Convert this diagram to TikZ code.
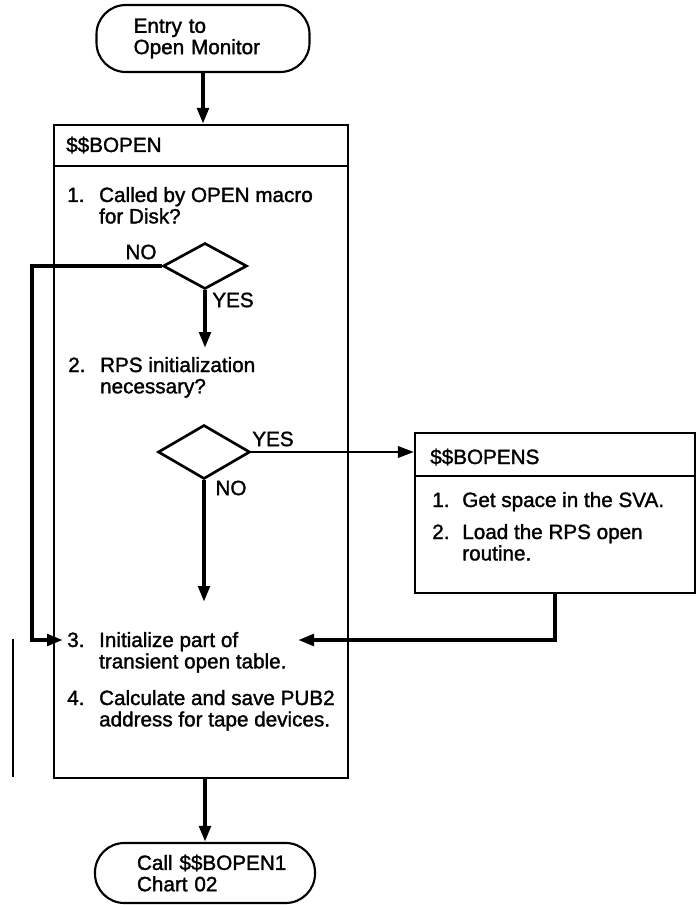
\documentclass[tikz,border=0pt]{standalone}
\usepackage{fontspec}
\setmainfont{Liberation Sans}[BoldFont={Liberation Sans},BoldFeatures={FakeBold=1.5}]
\usetikzlibrary{arrows.meta,shapes.geometric,calc}
\begin{document}
\begin{tikzpicture}[x=0.75pt,y=-0.75pt,
  every node/.style={font=\fontsize{15.5}{16}\selectfont\bfseries},
  boxst/.style={draw,line width=1.6pt,rectangle,inner sep=0pt},
  termst/.style={draw,line width=1.6pt,rounded corners=22pt,inner sep=0pt,align=left},
  decst/.style={draw,diamond,line width=2pt,inner sep=0pt},
  arr/.style={line width=3pt,-{Triangle[length=12pt,width=8.5pt]}},
  yesarr/.style={line width=2pt,-{Triangle[length=12pt,width=8.5pt]}},
  txt/.style={anchor=base west,inner sep=0pt},
  lbl/.style={inner sep=0pt}]
\useasboundingbox (0,0) rectangle (697,905);
\fill[white] (0,0) rectangle (697,905);

% terminators
\node[termst,minimum width=159.75pt,minimum height=50.25pt,text width=104pt] (entry) at (203,38.5) {Entry to\\\mbox{Open Monitor}};
\node[termst,minimum width=165pt,minimum height=45pt,text width=102pt] (endterm) at (205,873) {\mbox{Call \$\$BOPEN1}\\Chart 02};

% main box
\node[boxst,minimum width=220.5pt,minimum height=489.75pt] (mainbox) at (201,451.5) {};
\draw[line width=1.6pt] ([yshift=-31.5pt]mainbox.north west) -- ([yshift=-31.5pt]mainbox.north east);
\node[txt] (mainhead) at (66,152) {\$\$BOPEN};

% SVA box
\node[boxst,minimum width=210pt,minimum height=120pt] (bopens) at (555,513) {};
\draw[line width=1.6pt] ([yshift=-33pt]bopens.north west) -- ([yshift=-33pt]bopens.north east);
\node[txt] (bopenshead) at (430,464) {\$\$BOPENS};

% texts in main box
\node[txt] (s1) at (67,202) {\begin{tabular}[t]{@{}l@{\hspace{11pt}}l@{}}1.&Called by OPEN macro\\&for Disk?\end{tabular}};
\node[txt] (s2) at (68,372) {\begin{tabular}[t]{@{}l@{\hspace{11pt}}l@{}}2.&RPS initialization\\&necessary?\end{tabular}};
\node[txt] (s3) at (67,647) {\begin{tabular}[t]{@{}l@{\hspace{11pt}}l@{}}3.&Initialize part of\\&transient open table.\end{tabular}};
\node[txt] (s4) at (67,705) {\begin{tabular}[t]{@{}l@{\hspace{11pt}}l@{}}4.&Calculate and save PUB2\\&address for tape devices.\end{tabular}};

% texts in SVA box
\node[txt] (b1) at (432,507) {\begin{tabular}[t]{@{}l@{\hspace{9.6pt}}l@{}}1.&Get space in the SVA.\end{tabular}};
\node[txt] (b2) at (432,539) {\begin{tabular}[t]{@{}l@{\hspace{9.6pt}}l@{}}2.&Load the RPS open\\&routine.\end{tabular}};

% decisions
\node[decst,minimum width=63pt,minimum height=34.5pt] (d1) at (205,266) {};
\node[decst,minimum width=69pt,minimum height=40.5pt] (d2) at (204,452) {};

% labels
\node[lbl] (no1) at (141,252) {NO};
\node[lbl] (yes1) at (233,300) {YES};
\node[lbl] (yes2) at (273,439) {YES};
\node[lbl] (no2) at (231,488) {NO};

% coordinates
\coordinate (q2) at (205,348);
\coordinate (nol) at (32,266);
\coordinate (t3w) at (63,640);
\coordinate (q3) at (204,602);
\coordinate (t3e) at (298,640);

% connectors
\draw[arr] (entry.south) -- (entry.south |- mainbox.north);
\draw[arr] (d1.south) -- (q2);
\draw[arr] (d1.west) -- (nol) |- (t3w);
\draw[yesarr] (d2.east) -- (d2.east -| bopens.west);
\draw[arr] (d2.south) -- (q3);
\draw[arr] (bopens.south) |- (t3e);
\draw[arr] (mainbox.south -| endterm.north) -- (endterm.north);

% change bar
\draw[line width=2.2pt] (13,639) -- (13,777);
\end{tikzpicture}
\end{document}
